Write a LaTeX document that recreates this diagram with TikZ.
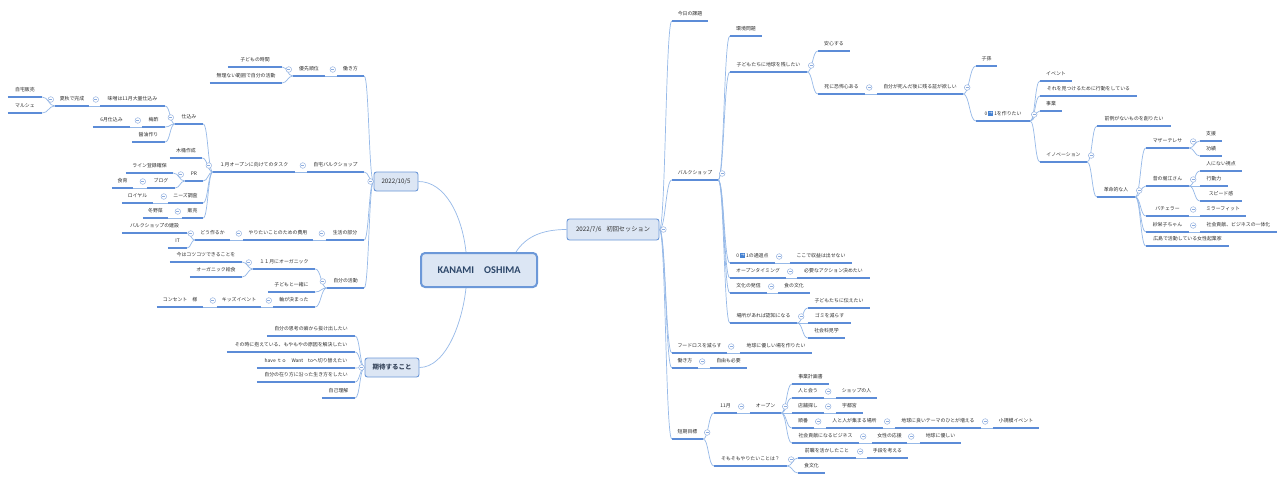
\documentclass[tikz,border=0pt]{standalone}
\usepackage{fontspec}
\setmainfont{Noto Sans CJK JP}
\newfontfamily\carl{Carlito}
\newfontfamily\djv{DejaVu Sans}
\usetikzlibrary{calc}
\definecolor{ulc}{RGB}{92,140,215}
\definecolor{cnc}{RGB}{150,185,232}
\definecolor{mkc}{RGB}{140,172,222}
\definecolor{txc}{RGB}{45,45,45}
\definecolor{boxf}{RGB}{220,230,244}
\definecolor{boxd}{RGB}{108,152,216}
\definecolor{ctxt}{RGB}{44,70,105}
\definecolor{ctxtb}{RGB}{55,70,92}
\definecolor{iconc}{RGB}{70,130,210}
\pgfdeclarelayer{fg}
\pgfsetlayers{main,fg}
\tikzset{
 topic/.style={inner xsep=0.5pt, inner ysep=5.5pt, text height=4pt, text depth=0pt, font=\fontsize{4.9}{5}\selectfont, text=txc, anchor=south},
 uline/.style={draw=ulc, line width=1.3pt},
 conn/.style={draw=cnc, line width=0.7pt},
 mk/.style={circle, draw=mkc, fill=white, line width=0.45pt, minimum size=5.6pt, inner sep=0pt,
   path picture={\draw[mkc,line width=0.45pt] ([xshift=-1.4pt]path picture bounding box.center) -- ([xshift=1.4pt]path picture bounding box.center);}},
 sbox/.style={draw=boxd, fill=boxf, line width=0.9pt, rounded corners=2.5pt, inner sep=0pt, font=\fontsize{6.2}{7}\selectfont, text=txc},
 cbox/.style={draw=boxd, fill=boxf, line width=2pt, rounded corners=4pt, inner sep=0pt, font=\carl\bfseries\fontsize{10.3}{12}\selectfont, text=ctxt},
}
\newcommand\icon{\makebox[5.4pt]{\textcolor{iconc}{\rule[-0.6pt]{5.4pt}{5.4pt}}\llap{\makebox[5.4pt]{\raisebox{0.5pt}{\textcolor{white}{\djv\fontsize{4.6}{4.6}\selectfont →}}}}}}
\newcommand\tp[5]{\node[topic, minimum width={(#3-#2)*1pt}] (#1) at ({(#2+#3)/2},#4) {#5};
 \begin{pgfonlayer}{fg}\draw[uline] (#1.south west) -- (#1.south east);\end{pgfonlayer}}
\newcommand\cR[2]{\draw[conn] let \p1=(#1), \p2=(#2.south west) in (\p1) .. controls ({0.5*\x1+0.5*\x2},\y1) and ({0.5*\x1+0.5*\x2},\y2) .. (\p2);}
\newcommand\cL[2]{\draw[conn] let \p1=(#1), \p2=(#2.south east) in (\p1) .. controls ({0.5*\x1+0.5*\x2},\y1) and ({0.5*\x1+0.5*\x2},\y2) .. (\p2);}
\newcommand\kR[2]{\foreach \kid in {#2}{\cR{#1}{\kid}}}
\newcommand\kL[2]{\foreach \kid in {#2}{\cL{#1}{\kid}}}
\newcommand\mR[1]{\begin{pgfonlayer}{fg}\node[mk] (mk-#1) at ([xshift=4pt,yshift=6.5pt]#1.south east) {};\end{pgfonlayer}}
\newcommand\mL[1]{\begin{pgfonlayer}{fg}\node[mk] (mk-#1) at ([xshift=-4pt,yshift=6.5pt]#1.south west) {};\end{pgfonlayer}}
\begin{document}
\begin{tikzpicture}[x=1pt,y=-1pt]
\fill[white] (0,0) rectangle (1286,482);
\useasboundingbox (0,0) rectangle (1286,482);
% boxes
\node[cbox, minimum width=116pt, minimum height=34pt] (C) at (479,270) {KANAMI\hspace{10pt}OSHIMA};
\node[sbox, minimum width=44pt, minimum height=19pt] (L1) at (396,181.5) {2022/10/5};
\node[sbox, minimum width=92pt, minimum height=21pt] (R1) at (613,229.5) {2022/7/6\hspace{5pt}初回セッション};
\node[sbox, minimum width=54pt, minimum height=19pt, font=\bfseries\fontsize{6.5}{7}\selectfont, text=ctxtb] (L2) at (392,367.5) {期待すること};
\draw[conn] ([xshift=46pt]C.north west) .. controls (462,215) and (445,181.5) .. (L1.east);
\draw[conn] ([xshift=96pt]C.north west) .. controls (525,238) and (540,229.5) .. (R1.west);
\draw[conn] ([xshift=46pt]C.south west) .. controls (462,325) and (445,367.5) .. (L2.east);
% left topics
\tp{hataraki}{337}{364}{76}{働き方}
\tp{jitaku}{307}{364}{172}{自宅バルクショップ}
\tp{seikatsu}{326}{364}{240}{生活の部分}
\tp{jibun}{327}{364}{288}{自分の活動}
\tp{yusen}{293}{325}{76}{優先順位}
\tp{kjikan}{228}{282}{67}{子どもの時間}
\tp{muri}{210}{282}{83}{無理ない範囲で自分の活動}
\tp{task}{213}{295}{172}{１月オープンに向けてのタスク}
\tp{shikomi}{175}{203}{124}{仕込み}
\tp{kioke}{170}{202}{158}{木桶作成}
\tp{pr}{185}{203}{181}{PR}
\tp{needs}{168}{203}{203}{ニーズ調査}
\tp{hanbai}{182}{203}{218}{販売}
\tp{miso}{100}{165}{106}{味噌は11月大量仕込み}
\tp{umezu}{142}{165}{127}{梅酢}
\tp{shoyu}{132}{165}{142}{醤油作り}
\tp{natsuaki}{55}{89}{106}{夏秋で完成}
\tp{jhanbai}{8}{42}{97}{自宅販売}
\tp{marche}{8}{42}{113}{マルシェ}
\tp{rokug}{93}{130}{127}{6月仕込み}
\tp{lineR}{126}{173}{173}{ライン登録確保}
\tp{blog}{147}{175}{188}{ブログ}
\tp{shokuiku}{112}{133}{188}{食育}
\tp{royal}{122}{153}{203}{ロイヤル}
\tp{fuyu}{143}{168}{218}{冬野菜}
\tp{hiyou}{243}{313}{240}{やりたいことのための費用}
\tp{dou}{195}{230}{240}{どう作るか}
\tp{kensetsu}{122}{187}{233}{バルクショップの建設}
\tp{it}{168}{187}{248}{IT}
\tp{organic}{253}{315}{269}{１１月にオーガニック}
\tp{issho}{268}{315}{292}{子どもと一緒に}
\tp{jiku}{273}{315}{307}{軸が決まった}
\tp{kotsu}{170}{242}{262}{今はコツコツできることを}
\tp{kyushoku}{190}{242}{277}{オーガニック給食}
\tp{kids}{217}{261}{307}{キッズイベント}
\tp{consent}{157}{203}{307}{コンセント　様}
\tp{ki1}{267}{355}{336}{自分の思考の癖から抜け出したい}
\tp{ki2}{227}{355}{352}{その時に抱えている、もやもやの原因を解決したい}
\tp{ki3}{257}{355}{368}{have ｔｏ　Want　toへ切り替えたい}
\tp{ki4}{257}{355}{382}{自分の在り方に沿った生き方をしたい}
\tp{ki5}{322}{355}{398}{自己理解}
% right topics
\tp{kadai}{672}{708}{21}{今日の課題}
\tp{bulk}{672}{718}{180}{バルクショップ}
\tp{foodloss}{672}{727}{353}{フードロスを減らす}
\tp{hataraki2}{672}{698}{368}{働き方}
\tp{tanki}{672}{703}{439}{短期目標}
\tp{kankyo}{730}{762}{36}{環境問題}
\tp{nokoshi}{730}{807}{72}{子どもたちに地球を残したい}
\tp{tsuka}{730}{775}{263}{0\,\icon\,1の通過点}
\tp{openT}{730}{786}{278}{オープンタイミング}
\tp{bunka}{730}{767}{293}{文化の発信}
\tp{basho}{730}{797}{323}{場所があれば認知になる}
\tp{anshin}{818}{850}{51}{安心する}
\tp{shi}{818}{865}{94}{死に恐怖心ある}
\tp{akashi}{877}{963}{94}{自分が死んだ後に残る証が欲しい}
\tp{shison}{976}{997}{66}{子孫}
\tp{zero}{976}{1030}{121}{0\,\icon\,1を作りたい}
\tp{event}{1040}{1072}{81}{イベント}
\tp{mitsu}{1040}{1137}{96}{それを見つけるために行動をしている}
\tp{jigyo}{1040}{1062}{111}{事業}
\tp{innov}{1040}{1087}{162}{イノベーション}
\tp{zenrei}{1097}{1171}{126}{前例がないものを創りたい}
\tp{kakumei}{1097}{1135}{197}{革命的な人}
\tp{mother}{1146}{1189}{148}{マザーテレサ}
\tp{horie}{1146}{1189}{186}{昔の堀江さん}
\tp{bach}{1146}{1189}{216}{バチェラー}
\tp{saeko}{1146}{1189}{232}{紗栄子ちゃん}
\tp{hiro}{1146}{1229}{246}{広島で活動している女性起業家}
\tp{shien}{1200}{1222}{141}{支援}
\tp{koseki}{1200}{1222}{156}{功績}
\tp{shiten}{1200}{1242}{171}{人にない視点}
\tp{kodo}{1200}{1228}{186}{行動力}
\tp{speed}{1200}{1242}{201}{スピード感}
\tp{mirror}{1200}{1246}{216}{ミラーフィット}
\tp{ittai}{1200}{1277}{232}{社会貢献、ビジネスの一体化}
\tp{shueki}{790}{852}{263}{ここで収益は出せない}
\tp{action}{797}{870}{278}{必要なアクション決めたい}
\tp{shoku}{778}{810}{293}{食の文化}
\tp{tsutae}{808}{870}{308}{子どもたちに伝えたい}
\tp{gomi}{808}{851}{323}{ゴミを減らす}
\tp{kengaku}{808}{845}{338}{社会科見学}
\tp{yasa}{740}{812}{353}{地球に優しい場を作りたい}
\tp{jiyu}{710}{747}{368}{自由も必要}
\tp{juichi}{714}{737}{413}{11月}
\tp{somo}{714}{787}{466}{そもそもやりたいことは？}
\tp{openR}{750}{781}{413}{オープン}
\tp{keikaku}{792}{829}{384}{事業計画書}
\tp{au}{792}{824}{398}{人と会う}
\tp{tenpo}{792}{824}{413}{店舗探し}
\tp{junban}{792}{814}{428}{順番}
\tp{koken}{792}{859}{443}{社会貢献になるビジネス}
\tp{shophito}{836}{877}{398}{ショップの人}
\tp{utsu}{836}{863}{413}{宇都宮}
\tp{atsu}{826}{883}{428}{人と人が集まる場所}
\tp{fueru}{895}{981}{428}{地球に良いテーマのひとが増える}
\tp{shokibo}{993}{1039}{428}{小規模イベント}
\tp{josei}{872}{907}{443}{女性の応援}
\tp{yasa2}{920}{961}{443}{地球に優しい}
\tp{zenshoku}{798}{856}{458}{前職を活かしたこと}
\tp{shokub}{798}{825}{473}{食文化}
\tp{shudan}{867}{908}{458}{手段を考える}
% right connectors
\kR{R1.east}{kadai,bulk,foodloss,hataraki2,tanki}
\kR{bulk.south east}{kankyo,nokoshi,tsuka,openT,bunka,basho}
\kR{nokoshi.south east}{anshin,shi}
\kR{shi.south east}{akashi}
\kR{akashi.south east}{shison,zero}
\kR{zero.south east}{event,mitsu,jigyo,innov}
\kR{innov.south east}{zenrei,kakumei}
\kR{kakumei.south east}{mother,horie,bach,saeko,hiro}
\kR{mother.south east}{shien,koseki}
\kR{horie.south east}{shiten,kodo,speed}
\kR{bach.south east}{mirror}
\kR{saeko.south east}{ittai}
\kR{tsuka.south east}{shueki}
\kR{openT.south east}{action}
\kR{bunka.south east}{shoku}
\kR{basho.south east}{tsutae,gomi,kengaku}
\kR{foodloss.south east}{yasa}
\kR{hataraki2.south east}{jiyu}
\kR{tanki.south east}{juichi,somo}
\kR{juichi.south east}{openR}
\kR{openR.south east}{keikaku,au,tenpo,junban,koken}
\kR{au.south east}{shophito}
\kR{tenpo.south east}{utsu}
\kR{junban.south east}{atsu}
\kR{atsu.south east}{fueru}
\kR{fueru.south east}{shokibo}
\kR{koken.south east}{josei}
\kR{josei.south east}{yasa2}
\kR{somo.south east}{zenshoku,shokub}
\kR{zenshoku.south east}{shudan}
% left connectors
\kL{L1.west}{hataraki,jitaku,seikatsu,jibun}
\kL{hataraki.south west}{yusen}
\kL{yusen.south west}{kjikan,muri}
\kL{jitaku.south west}{task}
\kL{task.south west}{shikomi,kioke,pr,needs,hanbai}
\kL{shikomi.south west}{miso,umezu,shoyu}
\kL{miso.south west}{natsuaki}
\kL{natsuaki.south west}{jhanbai,marche}
\kL{umezu.south west}{rokug}
\kL{pr.south west}{lineR,blog}
\kL{blog.south west}{shokuiku}
\kL{needs.south west}{royal}
\kL{hanbai.south west}{fuyu}
\kL{seikatsu.south west}{hiyou}
\kL{hiyou.south west}{dou}
\kL{dou.south west}{kensetsu,it}
\kL{jibun.south west}{organic,issho,jiku}
\kL{organic.south west}{kotsu,kyushoku}
\kL{jiku.south west}{kids}
\kL{kids.south west}{consent}
\kL{L2.west}{ki1,ki2,ki3,ki4,ki5}
% markers
\foreach \n in {bulk,nokoshi,shi,akashi,zero,innov,kakumei,mother,horie,bach,saeko,tsuka,openT,bunka,basho,foodloss,hataraki2,tanki,juichi,openR,au,tenpo,junban,atsu,fueru,koken,josei,somo,zenshoku}{\mR{\n}}
\foreach \n in {hataraki,yusen,jitaku,task,shikomi,miso,natsuaki,umezu,pr,blog,needs,hanbai,seikatsu,hiyou,dou,jibun,organic,jiku,kids}{\mL{\n}}
\begin{pgfonlayer}{fg}
\node[mk] (mk-R1) at ([xshift=4pt]R1.east) {};
\node[mk] (mk-L1) at ([xshift=-3pt]L1.west) {};
\node[mk] (mk-L2) at ([xshift=-3pt]L2.west) {};
\end{pgfonlayer}
\end{tikzpicture}
\end{document}
